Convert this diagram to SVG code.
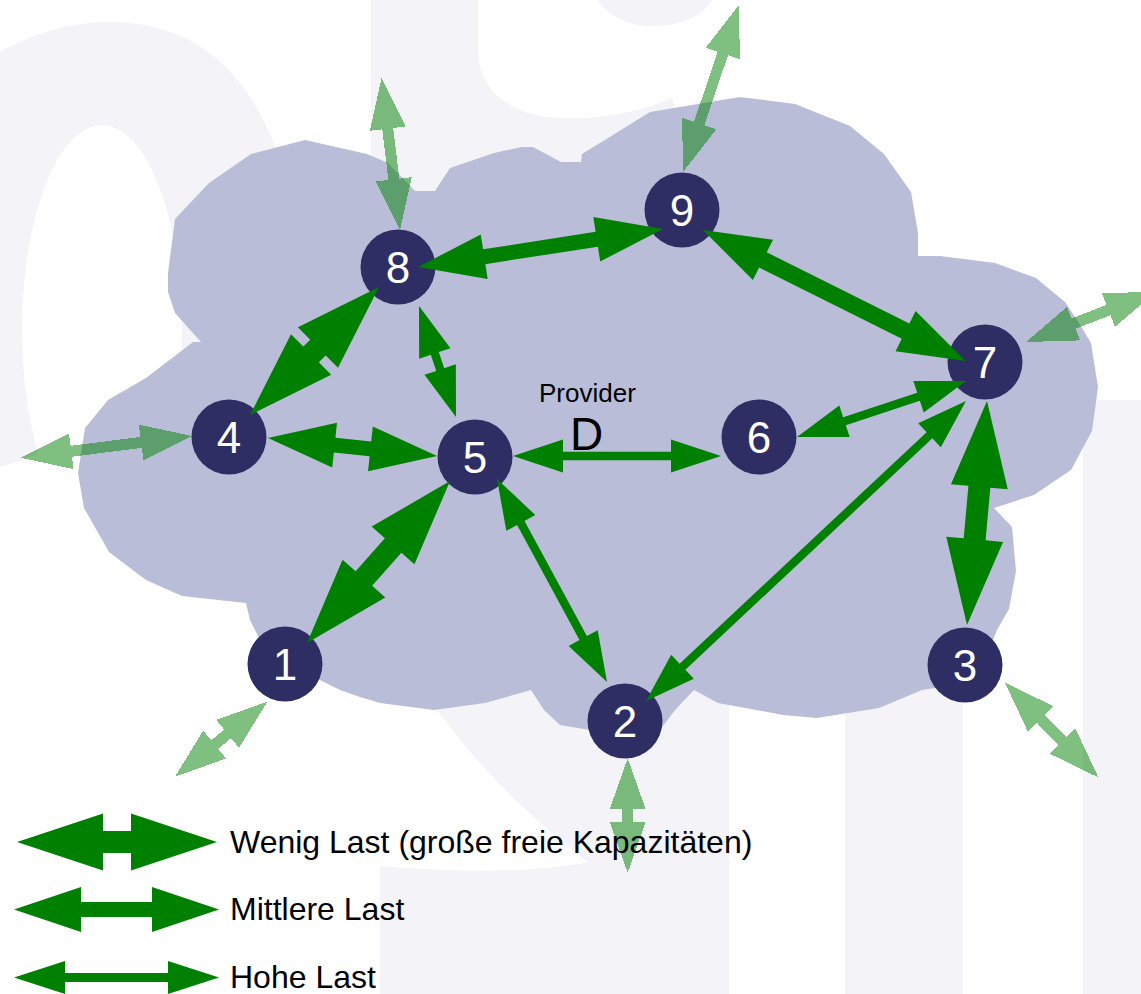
<svg xmlns="http://www.w3.org/2000/svg" width="1141" height="994" viewBox="0 0 1141 994">
  <style>
    .wm { fill: #f3f3f8; }
    .bg { fill: #ffffff; }
    .cloud { fill: #b9bdd8; }
    .node circle { fill: #2e2d64; }
    .node text { fill: #ffffff; font-family: 'Liberation Sans', Arial, sans-serif; font-size: 44px; text-anchor: middle; }
    .link { fill: #008000; }
    .ext { fill: #008000; fill-opacity: 0.5; shape-rendering: crispEdges; }
    .lbl { fill: #000000; font-family: 'Liberation Sans', Arial, sans-serif; }
  </style>

  <!-- faint background lettering -->
  <g id="watermark">
    <!-- O: outer body, then its counter -->
    <path class="wm" d="M-100,485 L0,467 Q50,452 110,420 L300,300 C295,100 215,22 110,22 C20,22 -60,80 -100,160 Z"/>
    <ellipse class="bg" cx="102" cy="330" rx="80" ry="205"/>
    <!-- upper bowl of the S: left stroke and spine -->
    <path class="wm" d="M371,0 H478 V50 C478,92 512,116 560,118 C600,120 640,112 672,98 L720,240 H371 Z"/>
    <!-- top terminal of the S -->
    <path class="wm" d="M598,0 H712 C702,16 682,26 652,26 C628,26 608,16 598,0 Z"/>
    <!-- lower bowl of the S: spine, right stroke and bottom stroke -->
    <path class="wm" d="M423,690 H729 V994 H380 V866 C450,872 530,874 588,862 C530,818 470,760 423,690 Z"/>
    <rect class="wm" x="845" y="300" width="118" height="694"/>
    <rect class="wm" x="1083" y="400" width="58" height="594"/>
  </g>

  <!-- provider network cloud -->
  <g id="cloud">
    <polygon class="cloud" points="168,273 175,219 209,183 251,154 305,140 367,154 388,163 415,191 435,191 450,168 494,153 522,147 533,147 561,162 581,162 582,154 600,143 650,112 740,97 795,104 850,126 884,154 911,192 918,233 918,256 940,256 995,263 1036,278 1065,302 1079,323 1091,343 1098,387 1092,431 1071,470 1034,495 994,508 1012,527 1016,571 1009,609 997,630 985,660 954,685 922,690 879,708 817,718 783,715 718,703 694,690 675,710 660,730 625,745 590,730 560,725 544,710 531,690 485,703 434,710 380,703 360,697 340,690 320,680 290,660 260,640 250,620 246,603 182,596 146,580 109,552 84,508 78,473 85,428 108,400 146,378 193,342 201,342 175,313 168,292"/>
  </g>

  <!-- routers -->
  <g id="node-8" class="node"><circle cx="398" cy="267" r="37.5"/><text x="398" y="283">8</text></g>
  <g id="node-9" class="node"><circle cx="682" cy="210" r="37.5"/><text x="682" y="226">9</text></g>
  <g id="node-7" class="node"><circle cx="985" cy="362" r="37.5"/><text x="985" y="378">7</text></g>
  <g id="node-4" class="node"><circle cx="229" cy="437" r="37.5"/><text x="229" y="453">4</text></g>
  <g id="node-5" class="node"><circle cx="475" cy="457" r="37.5"/><text x="475" y="473">5</text></g>
  <g id="node-6" class="node"><circle cx="759" cy="437" r="37.5"/><text x="759" y="453">6</text></g>
  <g id="node-1" class="node"><circle cx="285" cy="664" r="37.5"/><text x="285" y="680">1</text></g>
  <g id="node-2" class="node"><circle cx="625" cy="721" r="37.5"/><text x="625" y="737">2</text></g>
  <g id="node-3" class="node"><circle cx="965" cy="665" r="37.5"/><text x="965" y="681">3</text></g>

  <!-- provider label -->
  <g id="provider">
    <text class="lbl" x="539" y="402" font-size="26">Provider</text>
    <text class="lbl" x="570" y="450" font-size="46">D</text>
  </g>

  <!-- links: double arrows, width shows load -->
  <g id="connectors">
    <!-- low load (thick) -->
    <polygon class="link" transform="translate(379,287) rotate(135.22)" points="0,0 86,-28.5 86,-11 95.7,-11 95.7,-28.5 181.7,0 95.7,28.5 95.7,11 86,11 86,28.5"/>
    <polygon class="link" transform="translate(450,481) rotate(131.43)" points="0,0 86,-28.5 86,-11 130.1,-11 130.1,-28.5 216.1,0 130.1,28.5 130.1,11 86,11 86,28.5"/>
    <polygon class="link" transform="translate(987,401) rotate(95.1)" points="0,0 86,-28.5 86,-11 138.9,-11 138.9,-28.5 224.9,0 138.9,28.5 138.9,11 86,11 86,28.5"/>
    <!-- medium load -->
    <polygon class="link" transform="translate(418,267) rotate(-8.82)" points="0,0 67,-22.5 67,-7.5 180.9,-7.5 180.9,-22.5 247.9,0 180.9,22.5 180.9,7.5 67,7.5 67,22.5"/>
    <polygon class="link" transform="translate(703,230) rotate(26.52)" points="0,0 67,-22.5 67,-8.5 226.4,-8.5 226.4,-22.5 293.4,0 226.4,22.5 226.4,8.5 67,8.5 67,22.5"/>
    <polygon class="link" transform="translate(268,438) rotate(6.08)" points="0,0 67,-22.5 67,-7.5 103,-7.5 103,-22.5 170,0 103,22.5 103,7.5 67,7.5 67,22.5"/>
    <!-- high load (thin) -->
    <polygon class="link" transform="translate(419,306) rotate(71.57)" points="0,0 50,-16.5 50,-4.2 67,-4.2 67,-16.5 117,0 67,16.5 67,4.2 50,4.2 50,16.5"/>
    <polygon class="link" transform="translate(513,456)" points="0,0 50,-16.5 50,-4.2 158,-4.2 158,-16.5 208,0 158,16.5 158,4.2 50,4.2 50,16.5"/>
    <polygon class="link" transform="translate(966,381) rotate(161.67)" points="0,0 50,-16.5 50,-4.2 128,-4.2 128,-16.5 178,0 128,16.5 128,4.2 50,4.2 50,16.5"/>
    <polygon class="link" transform="translate(966,401) rotate(136.85)" points="0,0 50,-16.5 50,-4.2 388.6,-4.2 388.6,-16.5 438.6,0 388.6,16.5 388.6,4.2 50,4.2 50,16.5"/>
    <polygon class="link" transform="translate(497,479) rotate(61.55)" points="0,0 50,-16.5 50,-4.2 180.9,-4.2 180.9,-16.5 230.9,0 180.9,16.5 180.9,4.2 50,4.2 50,16.5"/>
    <!-- access links leaving the cloud -->
    <polygon class="ext" transform="translate(400,230) rotate(-96.9)" points="0,0 51,-18 51,-5.5 102.1,-5.5 102.1,-18 153.1,0 102.1,18 102.1,5.5 51,5.5 51,18"/>
    <polygon class="ext" transform="translate(683,172) rotate(-71.46)" points="0,0 51,-18 51,-5.5 125.1,-5.5 125.1,-18 176.1,0 125.1,18 125.1,5.5 51,5.5 51,18"/>
    <polygon class="ext" transform="translate(1026,342) rotate(-21.15)" points="0,0 51,-18 51,-5.5 88.5,-5.5 88.5,-18 139.5,0 88.5,18 88.5,5.5 51,5.5 51,18"/>
    <polygon class="ext" transform="translate(191.7,436) rotate(172.77)" points="0,0 51,-18 51,-5.5 121.4,-5.5 121.4,-18 172.4,0 121.4,18 121.4,5.5 51,5.5 51,18"/>
    <polygon class="ext" transform="translate(267.3,701.7) rotate(140.9)" points="0,0 51,-18 51,-5.5 67.9,-5.5 67.9,-18 118.9,0 67.9,18 67.9,5.5 51,5.5 51,18"/>
    <polygon class="ext" transform="translate(627.7,758.3) rotate(90)" points="0,0 51,-18 51,-5.5 63.4,-5.5 63.4,-18 114.4,0 63.4,18 63.4,5.5 51,5.5 51,18"/>
    <polygon class="ext" transform="translate(1005,682.7) rotate(45.4)" points="0,0 51,-18 51,-5.5 81.9,-5.5 81.9,-18 132.9,0 81.9,18 81.9,5.5 51,5.5 51,18"/>
  </g>

  <!-- legend -->
  <g id="legend">
    <polygon class="link" transform="translate(17,842)" points="0,0 86,-28.5 86,-11 114,-11 114,-28.5 200,0 114,28.5 114,11 86,11 86,28.5"/>
    <text class="lbl" x="230" y="853" font-size="32">Wenig Last (große freie Kapazitäten)</text>
    <polygon class="link" transform="translate(14,909.5)" points="0,0 67,-22.5 67,-7.5 138,-7.5 138,-22.5 205,0 138,22.5 138,7.5 67,7.5 67,22.5"/>
    <text class="lbl" x="230" y="920" font-size="32">Mittlere Last</text>
    <polygon class="link" transform="translate(14,977.5)" points="0,0 51,-16.5 51,-4.5 154,-4.5 154,-16.5 205,0 154,16.5 154,4.5 51,4.5 51,16.5"/>
    <text class="lbl" x="230" y="988" font-size="32">Hohe Last</text>
  </g>
</svg>
